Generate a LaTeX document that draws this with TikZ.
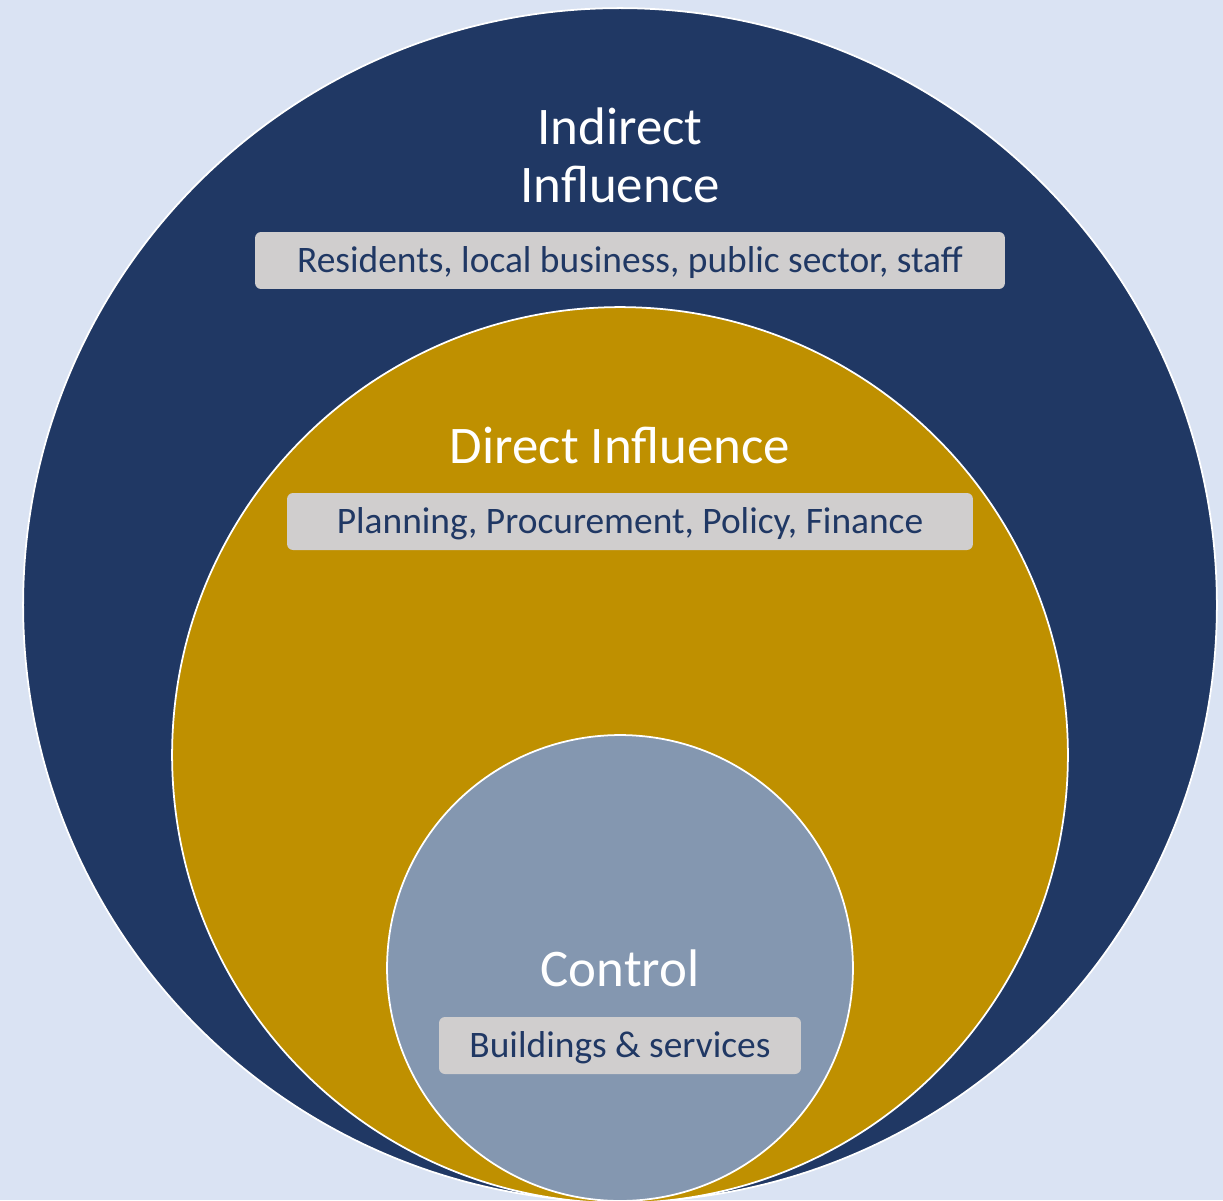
\documentclass[tikz,border=0pt]{standalone}
\usepackage{fontspec}
\setmainfont{Carlito}
\usetikzlibrary{positioning}
\definecolor{bgblue}{HTML}{DAE3F3}
\definecolor{navy}{HTML}{203864}
\definecolor{gold}{HTML}{BF9000}
\definecolor{slate}{HTML}{8497B0}
\definecolor{tagfill}{HTML}{D0CECE}
\tikzset{
  ring/.style={circle, draw=white, line width=1pt, inner sep=0pt},
  ringtitle/.style={text=white, font=\fontsize{30.1}{33}\selectfont, align=center, inner sep=0pt},
  tagbox/.style={fill=tagfill, rounded corners=0.12cm, text=navy, font=\fontsize{21.3}{25}\selectfont,
    minimum height=1.14cm, inner sep=0pt, text height=18pt, text depth=4pt},
}
\begin{document}
\begin{tikzpicture}[x=0.02cm, y=-0.02cm]
  \fill[bgblue] (0,0) rectangle (1223,1200);
  \useasboundingbox (0,0) rectangle (1223,1200);
  % the three rings
  \node[ring, fill=navy, minimum size=23.88cm] (indirect) at (620,605) {};
  \node[ring, fill=gold, minimum size=17.92cm] (direct) at (620,755) {};
  \node[ring, fill=slate, minimum size=9.32cm] (control) at (620,968) {};
  % titles and tags
  \node[ringtitle] (indirecttitle) at (620,155) {Indirect\\Influence};
  \node[tagbox, minimum width=15cm] (indirecttag) at (630,260.5) {Residents, local business, public sector, staff};
  \node[ringtitle] (directtitle) at (620,445) {Direct Influence};
  \node[tagbox, minimum width=13.72cm] (directtag) at (630,521.5) {Planning, Procurement, Policy, Finance};
  \node[ringtitle] (controltitle) at (620,968) {Control};
  \node[tagbox, minimum width=7.24cm] (controltag) at (620,1045.5) {Buildings \& services};
\end{tikzpicture}
\end{document}
